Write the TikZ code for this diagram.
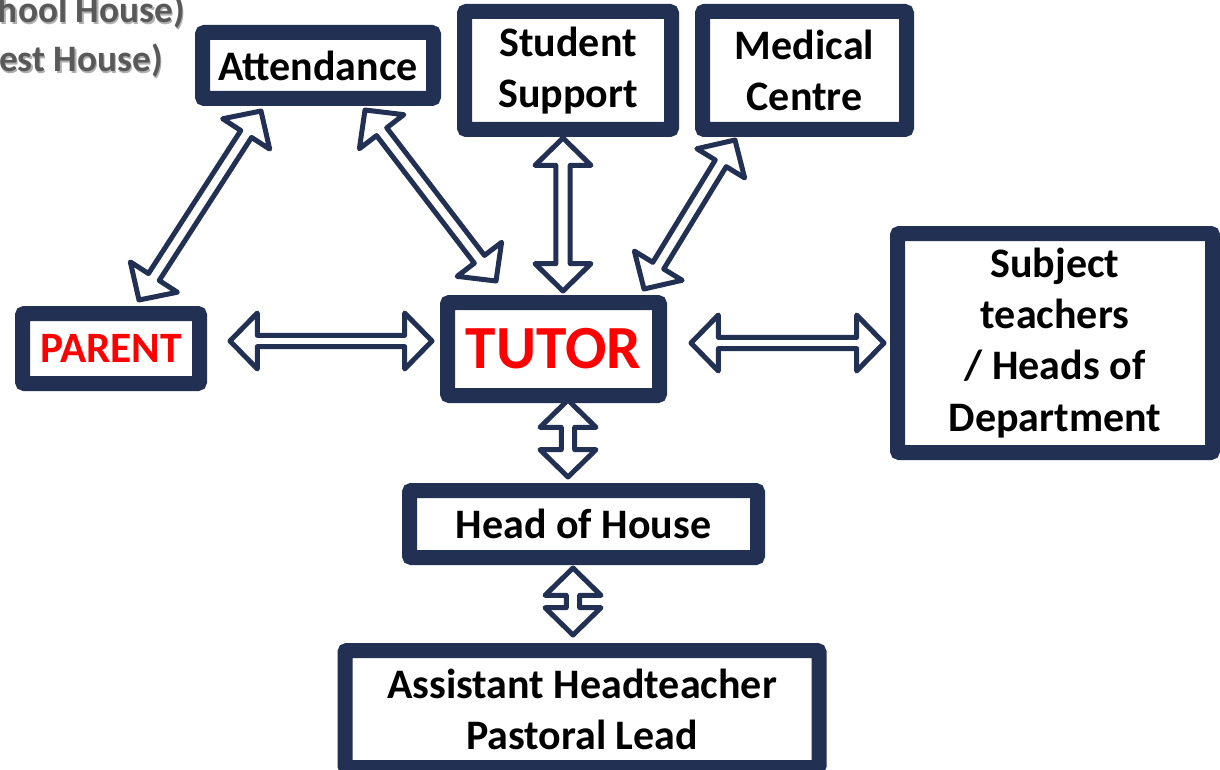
\documentclass[tikz,border=0pt]{standalone}
\usepackage{fontspec}
\setmainfont{Carlito}
\usetikzlibrary{calc}
\definecolor{navy}{RGB}{34,48,84}
\definecolor{txtgray}{RGB}{89,89,89}
\definecolor{shgray}{RGB}{175,175,175}
\definecolor{tred}{RGB}{255,0,0}
\def\ahh{21pt}\def\ahl{20.5pt}
\tikzset{
  mybox/.style={draw=navy, line width=11.25pt, rounded corners=1.5pt, fill=white,
    inner sep=0pt, outer sep=0pt, align=center,
    font=\bfseries\fontsize{31.5}{38.3}\selectfont},
  szw/.style={minimum width=#1*0.75pt},
  szh/.style={minimum height=#1*0.75pt},
  arrshape/.style={draw=navy, fill=white, line width=3.75pt, line join=round},
  hdr/.style={anchor=base east, inner sep=0pt, font=\bfseries\fontsize{28}{34}\selectfont}}
\newcommand\dblarr[3][4.8pt]{%
 \draw[arrshape] (#2) -- ($(#2)!\ahl!(#3)!\ahh!90:(#3)$) -- ($(#2)!\ahl!(#3)!#1!90:(#3)$)
   -- ($(#3)!\ahl!(#2)!#1!-90:(#2)$) -- ($(#3)!\ahl!(#2)!\ahh!-90:(#2)$) -- (#3)
   -- ($(#3)!\ahl!(#2)!\ahh!90:(#2)$) -- ($(#3)!\ahl!(#2)!#1!90:(#2)$)
   -- ($(#2)!\ahl!(#3)!#1!-90:(#3)$) -- ($(#2)!\ahl!(#3)!\ahh!-90:(#3)$) -- cycle;}
\begin{document}
\begin{tikzpicture}[x=0.75pt,y=-0.75pt]
\useasboundingbox (0,0) rectangle (1220,770);
\fill[white] (0,0) rectangle (1220,770);
% header texts, cut off at the picture's edge as in the reference
\node[hdr, text=shgray] at (186.5,24.5) {hool House)};
\node[hdr, text=txtgray] (hdrA) at (185,23) {hool House)};
\node[hdr, text=shgray] at (164.5,73.5) {est House)};
\node[hdr, text=txtgray] (hdrB) at (163,72) {est House)};
% boxes
\node[mybox, szw=231, szh=66] (att) at (318,65.5) {Attendance};
\node[mybox, szw=207, szh=118] (stu) at (568,70.5) {Student\\Support};
\node[mybox, szw=204, szh=118] (med) at (804.5,70.5) {Medical\\Centre};
\node[mybox, szw=177, szh=70, text=tred, font=\bfseries\fontsize{32.5}{38}\selectfont] (par) at (111,348.5) {PARENT};
\node[mybox, szw=212, szh=93, text=tred, font=\bfseries\fontsize{46}{52}\selectfont] (tut) at (553.5,349) {TUTOR};
\node[mybox, szw=315, szh=219] (sub) at (1055,343) {Subject\\teachers\\/ Heads of\\Department};
\node[mybox, szw=348, szh=67] (hoh) at (583.5,524) {Head of House};
\node[mybox, szw=474, szh=117] (ahp) at (582,709) {Assistant Headteacher\\Pastoral Lead};
% arrow end points
\coordinate (pL1) at (230,341); \coordinate (pL2) at (432,341);
\coordinate (pR1) at (691,343); \coordinate (pR2) at (884,343);
\coordinate (vS1) at (563,138); \coordinate (vS2) at (563,291);
\coordinate (vH1) at (568,400); \coordinate (vH2) at (568,477);
\coordinate (vA1) at (573,568); \coordinate (vA2) at (573,635);
\coordinate (dP1) at (261,111); \coordinate (dP2) at (139,300);
\coordinate (dT1) at (365,110); \coordinate (dT2) at (496,281);
\coordinate (dM1) at (735,140); \coordinate (dM2) at (644,289);
% arrows
\dblarr[4.2pt]{pL1}{pL2}
\dblarr[4.2pt]{pR1}{pR2}
\dblarr[5.4pt]{vS1}{vS2}
\dblarr[5pt]{vH1}{vH2}
\dblarr[5pt]{vA1}{vA2}
\dblarr{dP1}{dP2}
\dblarr{dT1}{dT2}
\dblarr{dM1}{dM2}
\end{tikzpicture}
\end{document}
